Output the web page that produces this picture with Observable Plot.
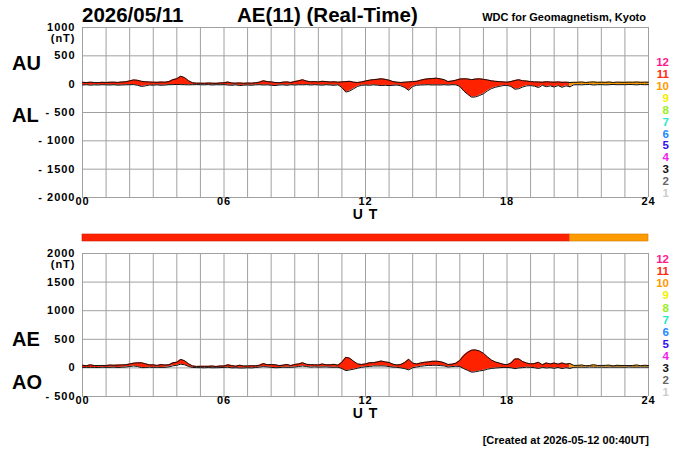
<!DOCTYPE html>
<html><head><meta charset="utf-8">
<script src="https://cdn.jsdelivr.net/npm/d3@7"></script>
<script src="https://cdn.jsdelivr.net/npm/@observablehq/plot@0.6"></script>
<style>
body{margin:0;background:#fff;}
#wrap{position:relative;width:700px;height:450px;overflow:hidden;background:#fff;}
#wrap svg{position:absolute;left:0;background:transparent !important;}
</style></head><body><div id="wrap"></div>
<script>
// ---- data (10-minute samples, 00:00 .. 24:00 UT) ----
const stepMinutes = 10;
const AU = [32,28,35,30,27,33, 30,34,36,31,38,42, 58,75,68,50,42,38, 35,32,38,35,45,80,
  95,140,115,60,25,18, 18,15,20,18,15,22, 25,38,20,18,22,15, 20,18,25,35,60,45,
  40,30,25,35,40,30, 45,60,78,55,42,45, 40,50,45,38,42,35, 40,45,50,35,30,40,
  55,70,80,85,95,85, 70,45,35,30,35,40, 45,50,70,85,95,100, 105,95,80,45,55,70,
  90,95,92,80,90,95, 85,75,60,50,45,40, 35,45,65,78,60,55, 45,40,38,35,42,38,
  35,40,32,36,30,32, 34,38,30,36,40,33, 35,32,38,30,36,34, 32,36,34,38,33,35, 34];
const AL = [-15,-10,-18,-12,-15,-10, -12,-15,-10,-18,-14,-12, -10,-8,-20,-40,-30,-15, -18,-12,-20,-15,-10,-8,
  -5,-8,-10,-12,-10,-8, -10,-12,-8,-15,-10,-12, -8,-15,-20,-12,-25,-18, -15,-20,-12,-10,-15,-12,
  -18,-25,-15,-12,-20,-10, -15,-10,-12,-8,-15,-10, -12,-18,-10,-15,-20,-12, -60,-140,-120,-80,-40,-20,
  -15,-20,-12,-18,-25,-20, -25,-20,-15,-30,-60,-110, -40,-20,-15,-12,-10,-15, -12,-15,-10,-15,-10,-12,
  -40,-120,-180,-230,-225,-200, -170,-120,-80,-55,-40,-25, -20,-40,-90,-80,-50,-30, -25,-35,-60,-20,-45,-30,
  -50,-25,-55,-30,-45,-12, -10,-12,-8,-5,-15,-10, -8,-12,-10,-5,-10,-8, -10,-5,-8,-12,-6,-10, -8];
const AE = [47,38,53,42,42,43, 42,49,46,49,52,54, 68,83,88,90,72,53, 53,44,58,50,55,88,
  100,148,125,72,35,26, 28,27,28,33,25,34, 33,53,40,30,47,33, 35,38,37,45,75,57,
  58,55,40,47,60,40, 60,70,90,63,57,55, 52,68,55,53,62,47, 100,185,170,115,70,60,
  70,90,92,103,120,105, 95,65,50,60,95,150, 85,70,85,97,105,115, 117,110,90,60,65,82,
  130,215,272,310,315,295, 255,195,140,105,85,65, 55,85,155,158,110,85, 70,75,98,55,87,68,
  85,65,87,66,75,44, 44,50,38,41,55,43, 43,44,48,35,46,42, 42,41,42,50,39,45, 42];
const AO = [9,9,9,9,6,12, 9,10,13,7,12,15, 24,34,24,5,6,12, 9,10,9,10,18,36,
  45,66,53,24,8,5, 4,2,6,2,3,5, 9,12,0,3,-2,-2, 3,-1,7,13,23,17,
  11,3,5,12,10,10, 15,25,33,24,14,18, 14,16,18,12,11,12, -10,-48,-35,-23,-5,10,
  20,25,34,34,35,33, 23,13,10,0,-13,-35, 3,15,28,37,43,43, 47,40,35,15,23,29,
  25,-13,-44,-75,-68,-53, -43,-23,-10,-3,3,8, 8,3,-13,-1,5,13, 10,3,-11,8,-2,4,
  -8,8,-12,3,-8,10, 12,13,11,16,13,12, 14,10,14,13,13,13, 11,16,13,13,14,13, 13];

// number of stations used, by time segment (hours UT)
const segments = [{from: 0, to: 20 + 40/60, n: 11}, {from: 20 + 40/60, to: 24, n: 10}];
const stationCounts = [12,11,10,9,8,7,6,5,4,3,2,1];
const stationColors = {12:"#ff1a8c",11:"#ff2a10",10:"#ff9900",9:"#f5ee00",8:"#99ee22",7:"#22e8c8",
  6:"#2288ff",5:"#3311ee",4:"#ee22ee",3:"#111111",2:"#666666",1:"#cccccc"};
const fillColors = {11:"#ff2200", 10:"#ff9a00"};

const hourGrid = d3.range(0, 25);
const xTicks = [0, 6, 12, 18, 24];
const xTickLabels = ["00","06","12","18","24"];
const yTicksTop = [1000, 500, 0, -500, -1000, -1500, -2000];
const yTicksBottom = [2000, 1500, 1000, 500, 0, -500];

// ---- build rows ----
const rows = [];
segments.forEach((s, si) => {
  AU.forEach((v, i) => {
    const h = i * stepMinutes / 60;
    if (h >= s.from - 1e-9 && h <= s.to + 1e-9)
      rows.push({h, au: v, al: AL[i], ae: AE[i], ao: AO[i], seg: si, n: s.n});
  });
});

const fmtY = d => d < 0 ? "- " + (-d) : String(d);
const FONT = "'Liberation Sans', Arial, Helvetica, sans-serif";
const baseStyle = `font-family:${FONT};font-size:11px;font-weight:bold;letter-spacing:1px;background:transparent;overflow:visible;`;
const gridColor = "#a0a0a0";

function panel(top, height, mt, mb, domain, yTicks, upperKey, lowerKey) {
  const p = Plot.plot({
    width: 700, height, marginLeft: 82, marginRight: 52, marginTop: mt, marginBottom: mb,
    style: baseStyle,
    x: {domain: [0, 24], axis: null},
    y: {domain, axis: null},
    marks: [
      Plot.ruleX(hourGrid, {stroke: gridColor, strokeWidth: 1}),
      Plot.ruleY(yTicks, {stroke: gridColor, strokeWidth: 1}),
      Plot.areaY(rows, {x: "h", y1: lowerKey, y2: upperKey, z: "seg", fill: d => fillColors[d.n], curve: "linear"}),
      Plot.line(rows, {x: "h", y: upperKey, z: "seg", stroke: "#111", strokeWidth: 1}),
      Plot.line(rows, {x: "h", y: lowerKey, z: "seg", stroke: "#111", strokeWidth: 1}),
      Plot.text(yTicks, {y: d => d, frameAnchor: "left", dx: -7, textAnchor: "end", text: fmtY}),
      Plot.text([yTicks[0]], {y: d => d, frameAnchor: "left", dx: -7, dy: 11, textAnchor: "end", text: () => "(nT)"}),
      Plot.text(xTicks, {x: d => d, frameAnchor: "bottom", dy: 7, text: (d, i) => xTickLabels[i]}),
      Plot.text([12], {x: d => d, frameAnchor: "bottom", dy: 21.5, text: () => "U T", fontSize: 14})
    ]
  });
  p.style.top = top + "px";
  return p;
}

const wrap = document.getElementById("wrap");
wrap.appendChild(panel(0, 225, 27, 28, [-2000, 1000], yTicksTop, "au", "al"));
wrap.appendChild(panel(225, 200, 28, 29, [-500, 2000], yTicksBottom, "ae", "ao"));

// station-count bar
const bar = Plot.plot({
  width: 700, height: 7, marginLeft: 82, marginRight: 52, marginTop: 0, marginBottom: 0,
  style: baseStyle,
  x: {domain: [0, 24], axis: null},
  y: {domain: [0, 1], axis: null},
  marks: [Plot.rect(segments, {x1: "from", x2: "to", y1: 0, y2: 1,
    fill: d => fillColors[d.n], stroke: d => d3.color(fillColors[d.n]).darker(0.6).formatHex(), strokeWidth: 0.6})]
});
bar.style.top = "233.5px";
wrap.appendChild(bar);

// ---- annotations overlay ----
const svg = d3.select(wrap).append("svg").attr("width", 700).attr("height", 450)
  .style("top", "0px").style("pointer-events", "none")
  .attr("font-family", FONT).attr("font-weight", "bold");
const txt = (x, y, s, size, anchor = "start", fill = "#000") =>
  svg.append("text").attr("x", x).attr("y", y).attr("font-size", size).attr("text-anchor", anchor).attr("fill", fill).text(s);

txt(82, 22, "2026/05/11", 20.5);
txt(237, 22, "AE(11) (Real-Time)", 20.5);
txt(646, 21, "WDC for Geomagnetism, Kyoto", 11, "end");
txt(12, 70, "AU", 20);
txt(12, 122, "AL", 20);
txt(12, 346, "AE", 20);
txt(12, 389, "AO", 20);
txt(649, 444, "[Created at 2026-05-12 00:40UT]", 11, "end");

[[61.7, 11.95], [259, 12.1]].forEach(([y0, dy]) => {
  stationCounts.forEach((n, i) => {
    svg.append("text").attr("x", 669).attr("y", y0 + i * dy).attr("dy", "0.36em")
      .attr("font-size", 11.5).attr("text-anchor", "end").attr("fill", stationColors[n]).text(n);
  });
});
</script>
</body></html>
